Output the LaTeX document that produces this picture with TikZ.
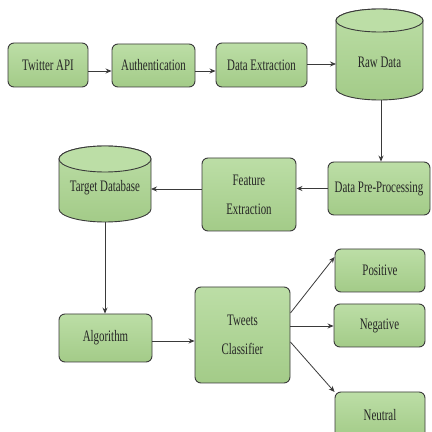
\documentclass[tikz,border=0pt]{standalone}
\usepackage{fontspec}
\setmainfont{Liberation Serif}[FakeStretch=0.68]
\usetikzlibrary{arrows.meta}
\definecolor{gtop}{HTML}{BCDEA6}
\definecolor{gbot}{HTML}{A3CB88}
\definecolor{edgec}{HTML}{3A3A3A}
\tikzset{
 box/.style={draw=edgec, line width=0.9pt, rounded corners=6pt, top color=gtop, bottom color=gbot,
   font=\fontsize{16}{19}\selectfont, text=black!85, inner sep=0pt, align=center},
 lbl/.style={font=\fontsize{16}{19}\selectfont, text=black!85, inner sep=0pt},
 cylbody/.style={draw=edgec, line width=0.9pt, top color=gtop, bottom color=gbot},
 cyltop/.style={draw=edgec, line width=0.9pt, fill=gtop},
 arr/.style={draw=edgec, line width=0.8pt, -{Stealth[length=6pt,width=5pt]}}
}
\begin{document}
\begin{tikzpicture}[x=1pt,y=1pt]
\useasboundingbox (0,0) rectangle (432,432);
\fill[white] (0,0) rectangle (432,432);
\clip (0,0) rectangle (432,432);

% top row
\node[box, minimum width=80pt, minimum height=44pt] (tw) at (48,367) {Twitter API};
\node[box, minimum width=83pt, minimum height=43pt] (auth) at (153.5,366.5) {Authentication};
\node[box, minimum width=91pt, minimum height=44pt] (dext) at (261.5,367) {Data Extraction};

% Raw Data cylinder
\path[cylbody] (336,411.5) -- (336,343.5)
  arc[start angle=180,end angle=360,x radius=43.5,y radius=11.5]
  -- (423,411.5)
  arc[start angle=0,end angle=180,x radius=43.5,y radius=11.5] -- cycle;
\draw[cyltop] (379.5,411.5) ellipse[x radius=43.5,y radius=11.5];
\node[lbl] (raw) at (379.5,370) {Raw Data};
\coordinate (rawL) at (336,368);
\coordinate (rawB) at (381,332);

% middle row
\node[box, minimum width=102pt, minimum height=53pt] (dpre) at (379,243.5) {Data Pre-Processing};
\node[box, minimum width=94pt, minimum height=73pt] (fext) at (249,237.5) {Feature\\[10pt]Extraction};

% Target Database cylinder
\path[cylbody] (59,273) -- (59,223)
  arc[start angle=180,end angle=360,x radius=46,y radius=13]
  -- (151,273)
  arc[start angle=0,end angle=180,x radius=46,y radius=13] -- cycle;
\draw[cyltop] (105,273) ellipse[x radius=46,y radius=13];
\node[lbl] (tdb) at (105,244) {Target Database};
\coordinate (tdbR) at (151,243);
\coordinate (tdbB) at (105,210);

% bottom part
\node[box, minimum width=93pt, minimum height=48pt] (alg) at (105.5,94) {Algorithm};
\node[box, minimum width=95pt, minimum height=96pt] (cls) at (242.5,97) {Tweets\\[10pt]Classifier};
\node[box, minimum width=90pt, minimum height=43pt] (pos) at (380,161.5) {Positive};
\node[box, minimum width=91pt, minimum height=43pt] (neg) at (379.5,106.5) {Negative};
\node[box, minimum width=90pt, minimum height=46pt] (neu) at (380,17) {Neutral};

% connectors
\draw[arr] ([yshift=-6pt]tw.east) -- ([yshift=-5.5pt]auth.west);
\draw[arr] ([yshift=-5.5pt]auth.east) -- ([yshift=-6pt]dext.west);
\draw[arr] ([yshift=1pt]dext.east) -- (rawL);
\draw[arr] (rawB) -- (rawB |- dpre.north);
\draw[arr] (dpre.west) -- (fext.east |- dpre.west);
\draw[arr] (fext.west |- tdbR) -- (tdbR);
\draw[arr] (tdbB) -- (tdbB |- alg.north);
\draw[arr] ([yshift=-3pt]alg.east) -- (cls.west |- 0,91);
\draw[arr] (cls.east |- 0,119) -- (pos.west |- 0,175);
\draw[arr] (cls.east |- 0,106) -- (neg.west |- 0,106);
\draw[arr] (cls.east |- 0,90) -- (neu.west |- 0,40);
\end{tikzpicture}
\end{document}
